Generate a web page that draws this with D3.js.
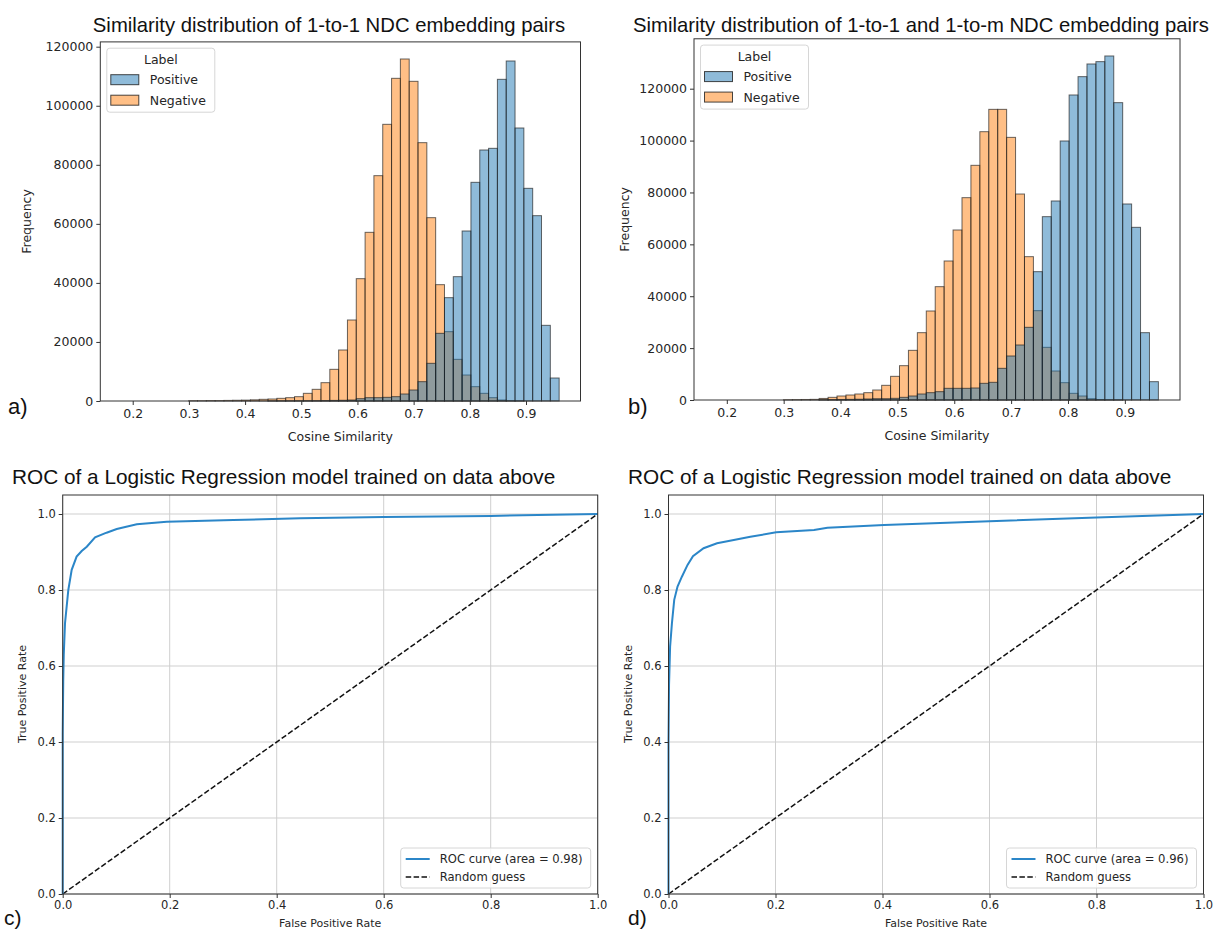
<!DOCTYPE html>
<html><head><meta charset="utf-8">
<script src="https://cdn.jsdelivr.net/npm/d3@7"></script>
<style>body{margin:0;background:#fff} svg{display:block}</style>
</head><body>
<svg id="fig" width="1213" height="931"></svg>
<script>
// ---------- DATA ----------
const binStart = 0.174;
const binWidth = 0.0157;
const histXTicks = [0.2, 0.3, 0.4, 0.5, 0.6, 0.7, 0.8, 0.9];
const histYTicks = [0, 20000, 40000, 60000, 80000, 100000, 120000];
const seriesLabels = ["Positive", "Negative"];

// panel a: 1-to-1 pairs (50 bins)
const negA = [0,0,0,0,0,0,0,0, 100,100,150,150,200,250,300,400,
  565,677,903,1129,1468,2597,3952,6210,10726,17274,27435,41434,57127,76320,93707,109287,
  115835,108271,87498,62095,39402,23483,14113,8806,4855,2597,1129,339,100,50,0,0,0,0];
const posA = [0,0,0,0,0,0,0,0,0,0,0,0,0,0,0,0,0,30,40,50,60,80,100,150,200,250,
  339,790,1129,1129,1242,1468,2371,3726,6548,12758,22919,34999,42112,57579,74062,85014,
  85578,108949,115158,92465,72030,62772,25628,7790];

// panel b: 1-to-1 and 1-to-m pairs (50 bins)
const negB = [0,0,0,0,0,0,0,0, 100,150,200,250,600,1028,1542,1928,2313,2827,3855,5655,
  9123,13235,19146,25957,34310,43690,53585,65535,77999,90463,103428,112038,112038,101242,
  79402,55255,34438,20303,11180,6682,2570,1542,500,200,100,50,0,0,0,0];
const posB = [0,0,0,0,0,0,0,0,0,0,0,0,100,150,200,250,300,400,500,500,643,1028,1542,2313,
  2827,3212,4498,4498,4498,4627,6425,6811,12208,16962,21203,28013,49472,70675,76715,99845,
  117578,124645,129528,130428,132612,114622,75558,66563,25957,7068];

// ROC curves
const rocTicks = [0.0, 0.2, 0.4, 0.6, 0.8, 1.0];
const rocCFpr = [0, 0, 0.001, 0.002, 0.0043, 0.0105, 0.0168, 0.026, 0.0355, 0.045, 0.0605, 0.082, 0.101, 0.1385, 0.1946, 0.319, 0.444, 0.6, 0.8, 1.0];
const rocCTpr = [0, 0.42, 0.56, 0.63, 0.712, 0.8, 0.853, 0.888, 0.9026, 0.914, 0.9386, 0.9508, 0.9605, 0.9728, 0.9798, 0.9842, 0.9885, 0.992, 0.995, 1.0];
const rocDFpr = [0, 0, 0.001, 0.003, 0.0064, 0.0107, 0.0169, 0.025, 0.0356, 0.0457, 0.0656, 0.0907, 0.122, 0.153, 0.2013, 0.272, 0.297, 0.403, 0.6, 0.8, 1.0];
const rocDTpr = [0, 0.4, 0.55, 0.651, 0.712, 0.774, 0.809, 0.835, 0.866, 0.889, 0.91, 0.923, 0.9316, 0.94, 0.9518, 0.958, 0.964, 0.971, 0.981, 0.991, 1.0];
const diagonal = [0, 1];

const histTitles = ["Similarity distribution of 1-to-1 NDC embedding pairs",
                    "Similarity distribution of 1-to-1 and 1-to-m NDC embedding pairs"];
const rocTitle = "ROC of a Logistic Regression model trained on data above";
const rocLegend = ["ROC curve (area = 0.98)", "ROC curve (area = 0.96)"];
const panelLetters = ["a)", "b)", "c)", "d)"];

// ---------- DRAWING ----------
const svg = d3.select("#fig");
const TXT = "#262626";
const MPL = "'DejaVu Sans', sans-serif";
const ARIAL = "'Liberation Sans', Arial, sans-serif";
const BLUE = "#1f77b4", ORANGE = "#ff7f0e";

function styleAxis(g, fs) {
  g.selectAll("path.domain").remove();
  g.selectAll(".tick line").attr("stroke", "#333").attr("stroke-width", 1);
  g.selectAll(".tick text").attr("fill", TXT).style("font-family", MPL).style("font-size", fs + "px");
}

function histogram(o) {
  const g = svg.append("g");
  const x = d3.scaleLinear().domain([0.1423, 0.997]).range([o.x0, o.x1]);
  const ymax = d3.max(o.neg.concat(o.pos)) * 1.05;
  const y = d3.scaleLinear().domain([0, ymax]).range([o.yb, o.yb - o.pxPerUnit * ymax]);
  const layers = [{vals: o.neg, color: ORANGE}, {vals: o.pos, color: BLUE}];
  layers.forEach(L => {
    g.append("g").selectAll("rect").data(L.vals.map((v, i) => ({v, i})).filter(d => d.v > 0))
      .join("rect")
      .attr("x", d => x(binStart + d.i * binWidth))
      .attr("width", d => x(binStart + (d.i + 1) * binWidth) - x(binStart + d.i * binWidth))
      .attr("y", d => y(d.v))
      .attr("height", d => y(0) - y(d.v))
      .attr("fill", L.color).attr("fill-opacity", 0.5)
      .attr("stroke", "#1a1a1a").attr("stroke-opacity", 0.65).attr("stroke-width", 1);
  });
  const yTop = y.range()[1];
  g.append("rect").attr("x", o.x0).attr("y", yTop).attr("width", o.x1 - o.x0).attr("height", o.yb - yTop)
    .attr("fill", "none").attr("stroke", "#333").attr("stroke-width", 1);
  const ax = g.append("g").attr("transform", `translate(0,${o.yb})`)
    .call(d3.axisBottom(x).tickValues(histXTicks).tickFormat(d3.format(".1f")).tickSize(4).tickPadding(4));
  styleAxis(ax, 12.5);
  const ay = g.append("g").attr("transform", `translate(${o.x0},0)`)
    .call(d3.axisLeft(y).tickValues(histYTicks).tickFormat(d => String(d)).tickSize(4).tickPadding(3));
  styleAxis(ay, 12.5);
  g.append("text").attr("x", (o.x0 + o.x1) / 2).attr("y", o.yb + 40).attr("text-anchor", "middle")
    .attr("fill", TXT).style("font-family", MPL).style("font-size", "12.5px").text("Cosine Similarity");
  g.append("text").attr("transform", `translate(${o.ylabX},${(o.yb + yTop) / 2}) rotate(-90)`)
    .attr("text-anchor", "middle").attr("fill", TXT).style("font-family", MPL).style("font-size", "12.5px").text("Frequency");
  g.append("text").attr("x", o.titleX).attr("y", 32).attr("text-anchor", "middle").attr("fill", "#111")
    .style("font-family", ARIAL).style("font-size", o.titleFs + "px").text(o.title);
  g.append("text").attr("x", o.letterX).attr("y", 414).attr("fill", "#111")
    .style("font-family", ARIAL).style("font-size", "22px").text(o.letter);
  const lx = o.x0 + 6.5, ly = yTop + 6.3;
  const lg = g.append("g").attr("transform", `translate(${lx},${ly})`);
  lg.append("rect").attr("width", 108).attr("height", 64).attr("rx", 3)
    .attr("fill", "#fff").attr("fill-opacity", 0.8).attr("stroke", "#d6d6d6");
  lg.append("text").attr("x", 54).attr("y", 16).attr("text-anchor", "middle").attr("fill", TXT)
    .style("font-family", MPL).style("font-size", "12.5px").text("Label");
  [BLUE, ORANGE].forEach((c, i) => {
    lg.append("rect").attr("x", 4).attr("y", 26.5 + i * 20.5).attr("width", 28).attr("height", 10)
      .attr("fill", c).attr("fill-opacity", 0.5).attr("stroke", "#1a1a1a").attr("stroke-opacity", 0.8);
    lg.append("text").attr("x", 43).attr("y", 36 + i * 20.5).attr("fill", TXT)
      .style("font-family", MPL).style("font-size", "12.5px").text(seriesLabels[i]);
  });
}

histogram({neg: negA, pos: posA, x0: 100.3, x1: 580.5, yb: 401, pxPerUnit: 354.3 / 120000,
  ylabX: 31, title: histTitles[0], titleX: 329, titleFs: 20.3, letter: panelLetters[0], letterX: 8});
histogram({neg: negB, pos: posB, x0: 694, x1: 1180, yb: 400, pxPerUnit: 311.3 / 120000,
  ylabX: 629, title: histTitles[1], titleX: 921, titleFs: 20.3, letter: panelLetters[1], letterX: 628});

function roc(o) {
  const g = svg.append("g");
  const x = d3.scaleLinear().domain([0, 1]).range([o.x0, o.x1]);
  const y = d3.scaleLinear().domain([0, 1.05]).range([894, 495]);
  g.append("g").selectAll("line.v").data(rocTicks).join("line")
    .attr("x1", d => x(d)).attr("x2", d => x(d)).attr("y1", y(0)).attr("y2", y(1.05))
    .attr("stroke", "#cfcfcf").attr("stroke-width", 1);
  g.append("g").selectAll("line.h").data(rocTicks).join("line")
    .attr("y1", d => y(d)).attr("y2", d => y(d)).attr("x1", o.x0).attr("x2", o.x1)
    .attr("stroke", "#cfcfcf").attr("stroke-width", 1);
  g.append("path").datum(diagonal).attr("d", d3.line().x(d => x(d)).y(d => y(d)))
    .attr("fill", "none").attr("stroke", "#111").attr("stroke-width", 1.5).attr("stroke-dasharray", "5.5,2.4");
  const pts = o.fpr.map((f, i) => [f, o.tpr[i]]);
  g.append("path").datum(pts).attr("d", d3.line().x(d => x(d[0])).y(d => y(d[1])))
    .attr("fill", "none").attr("stroke", "#2b86c8").attr("stroke-width", 2);
  g.append("rect").attr("x", o.x0).attr("y", 495).attr("width", o.x1 - o.x0).attr("height", 399)
    .attr("fill", "none").attr("stroke", "#333").attr("stroke-width", 1);
  const ax = g.append("g").attr("transform", "translate(0,894)")
    .call(d3.axisBottom(x).tickValues(rocTicks).tickFormat(d3.format(".1f")).tickSize(4).tickPadding(3));
  styleAxis(ax, 11.5);
  const ay = g.append("g").attr("transform", `translate(${o.x0},0)`)
    .call(d3.axisLeft(y).tickValues(rocTicks).tickFormat(d3.format(".1f")).tickSize(4).tickPadding(3));
  styleAxis(ay, 11.5);
  g.append("text").attr("x", (o.x0 + o.x1) / 2).attr("y", 927).attr("text-anchor", "middle").attr("fill", TXT)
    .style("font-family", MPL).style("font-size", "11px").text("False Positive Rate");
  g.append("text").attr("transform", `translate(${o.ylabX},694) rotate(-90)`).attr("text-anchor", "middle")
    .attr("fill", TXT).style("font-family", MPL).style("font-size", "11px").text("True Positive Rate");
  g.append("text").attr("x", o.titleX).attr("y", 484).attr("fill", "#111")
    .style("font-family", ARIAL).style("font-size", "20.8px").text(rocTitle);
  g.append("text").attr("x", o.letterX).attr("y", 925).attr("fill", "#111")
    .style("font-family", ARIAL).style("font-size", "21px").text(o.letter);
  const lg = g.append("g").attr("transform", `translate(${o.x1 - 197},848)`);
  lg.append("rect").attr("width", 190).attr("height", 40).attr("rx", 3)
    .attr("fill", "#fff").attr("fill-opacity", 0.8).attr("stroke", "#d6d6d6");
  lg.append("line").attr("x1", 5).attr("x2", 29).attr("y1", 11).attr("y2", 11).attr("stroke", "#2b86c8").attr("stroke-width", 2);
  lg.append("line").attr("x1", 5).attr("x2", 29).attr("y1", 29).attr("y2", 29).attr("stroke", "#111")
    .attr("stroke-width", 1.5).attr("stroke-dasharray", "5.5,2.4");
  lg.append("text").attr("x", 39).attr("y", 15).attr("fill", TXT).style("font-family", MPL).style("font-size", "11.6px").text(o.legend);
  lg.append("text").attr("x", 39).attr("y", 33).attr("fill", TXT).style("font-family", MPL).style("font-size", "11.6px").text("Random guess");
}

roc({fpr: rocCFpr, tpr: rocCTpr, x0: 62.7, x1: 597.7, ylabX: 26, titleX: 12, letterX: 4, letter: panelLetters[2], legend: rocLegend[0]});
roc({fpr: rocDFpr, tpr: rocDTpr, x0: 668.5, x1: 1203.5, ylabX: 632, titleX: 628, letterX: 628, letter: panelLetters[3], legend: rocLegend[1]});
</script>
</body></html>
